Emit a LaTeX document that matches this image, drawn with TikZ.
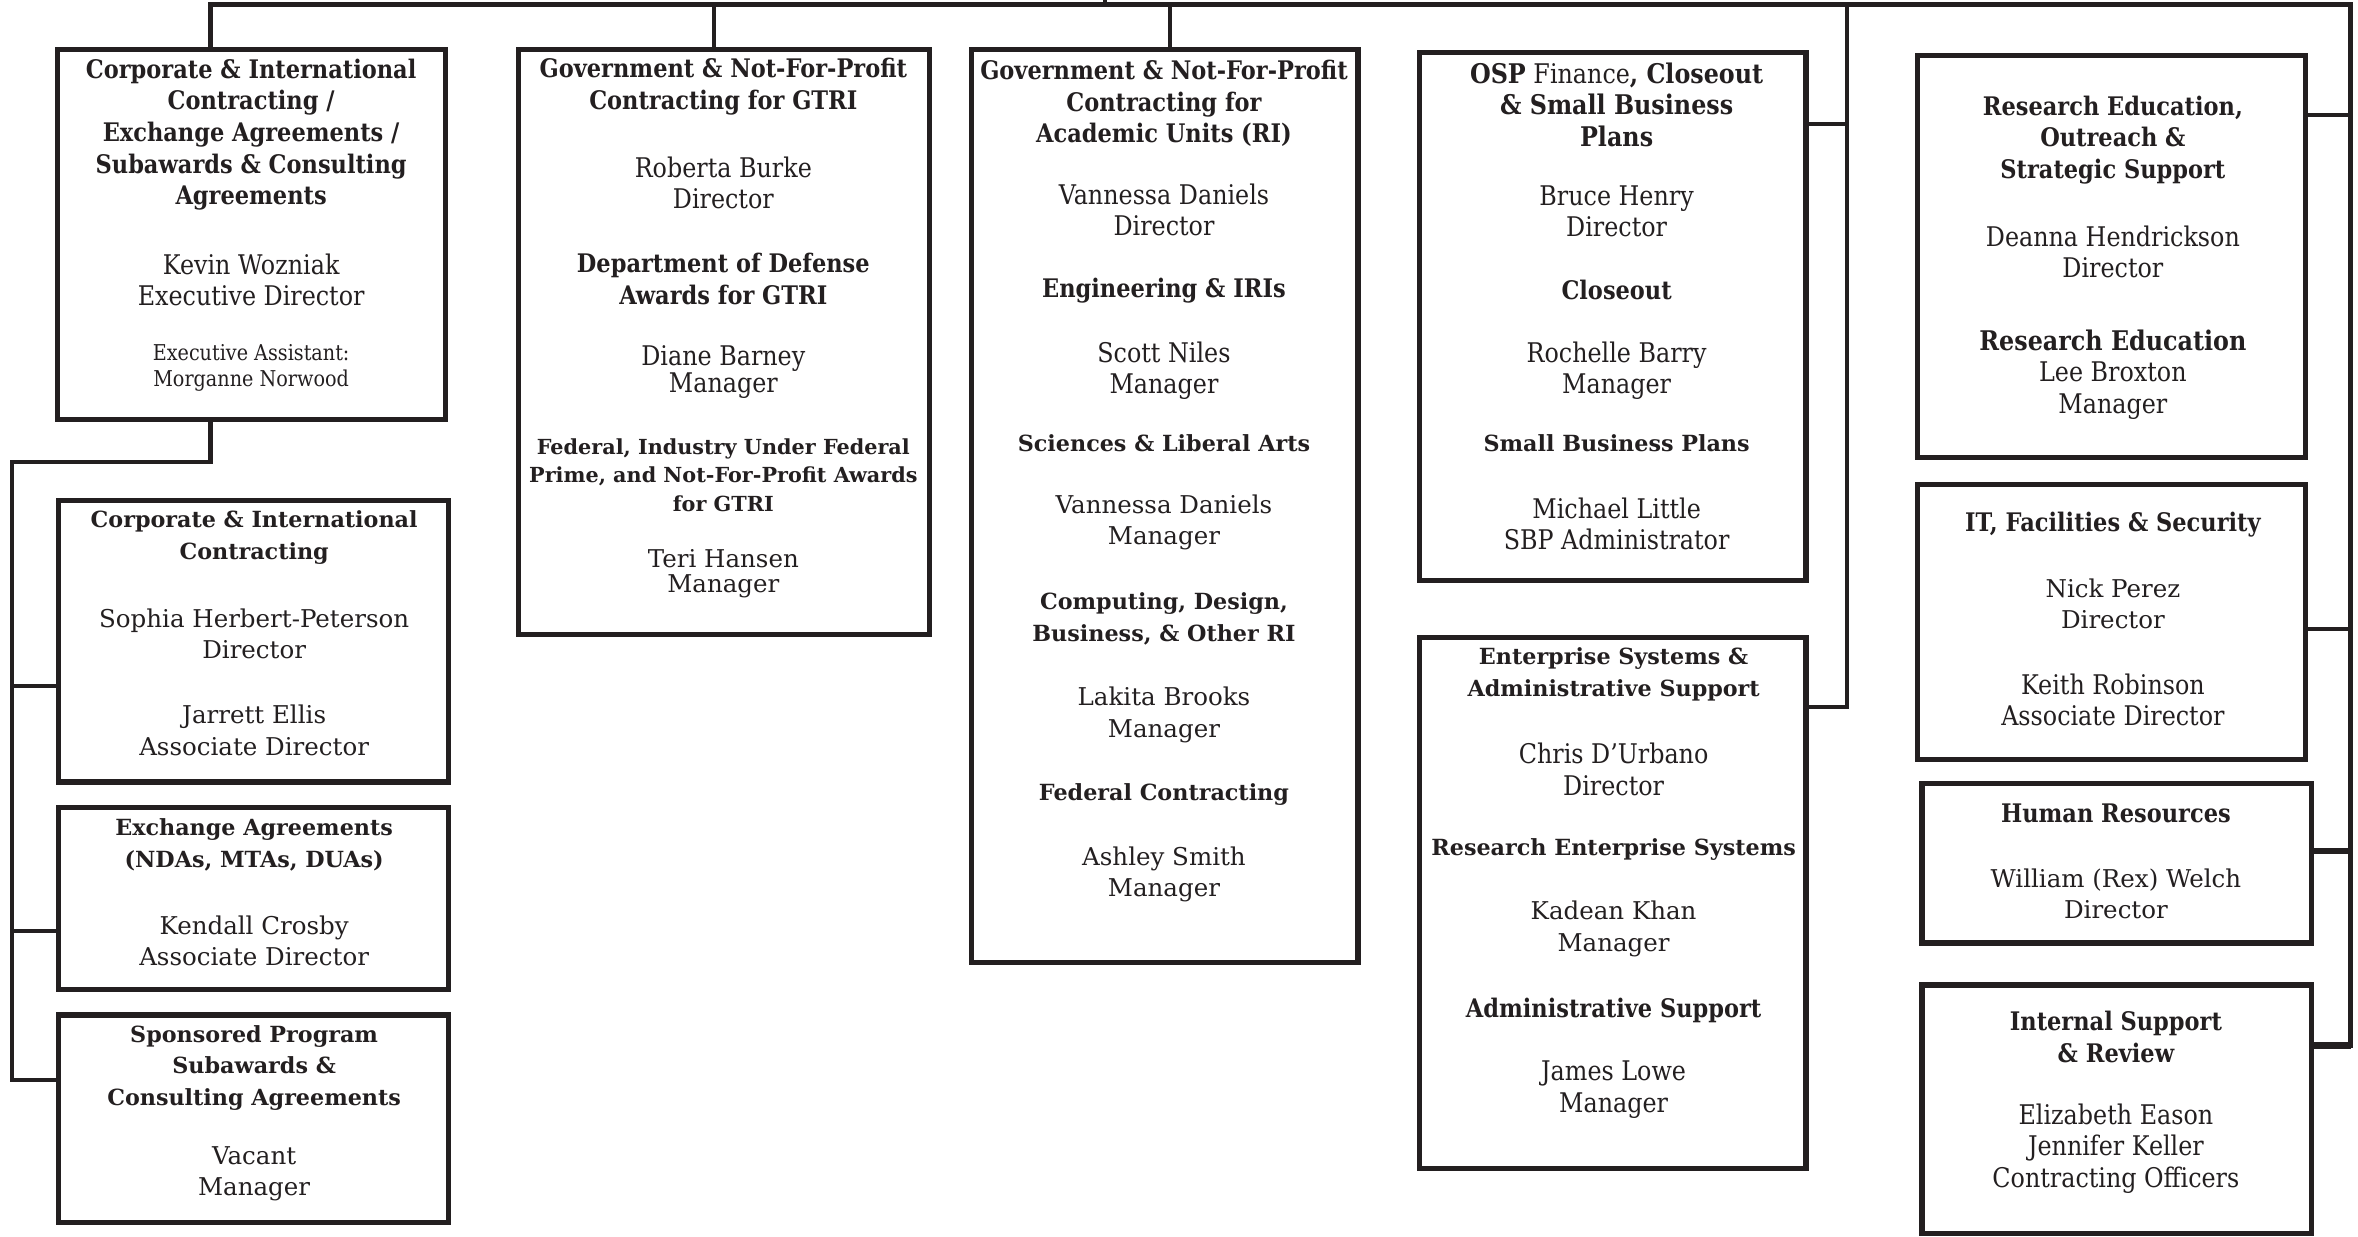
\documentclass[tikz,border=0pt]{standalone}
\usepackage{fontspec}
\setmainfont{DejaVu Serif}
\newfontfamily\cnd[FakeStretch=0.88]{DejaVu Serif}
\definecolor{ink}{HTML}{231F20}
\tikzset{
  box/.style={draw=ink, line width=3.5pt, inner sep=0pt, fill=none},
  conn/.style={draw=ink, line width=2.8pt},
  thk/.style={draw=ink, line width=4.2pt},
  tx/.style={align=center, inner sep=0pt, text=ink},
  tb/.style={tx, font=\cnd\bfseries\fontsize{17}{21}\selectfont},
  tn/.style={tx, font=\cnd\fontsize{18}{21}\selectfont},
  tntight/.style={tx, font=\cnd\fontsize{18}{17}\selectfont},
  tsmall/.style={tx, font=\cnd\fontsize{14.5}{17}\selectfont},
  wb/.style={tx, font=\bfseries\fontsize{14.8}{21}\selectfont},
  wbsmall/.style={tx, font=\bfseries\fontsize{13.8}{19}\selectfont},
  wn/.style={tx, font=\fontsize{16.3}{21}\selectfont},
  wntight/.style={tx, font=\fontsize{16.3}{17}\selectfont},
}
\begin{document}
\begin{tikzpicture}[x=1pt,y=-1pt]
\useasboundingbox (0,0) rectangle (1568,822);

% boxes
\node[box, minimum width=258pt, minimum height=246pt] (A) at (167,156) {};
\node[box, minimum width=273pt, minimum height=389pt] (B) at (481.5,227.5) {};
\node[box, minimum width=257pt, minimum height=607pt] (C) at (774.5,336.5) {};
\node[box, minimum width=257pt, minimum height=351pt] (D) at (1072.5,210.5) {};
\node[box, minimum width=257pt, minimum height=353pt] (E) at (1072.5,600.5) {};
\node[box, minimum width=258pt, minimum height=267pt] (F) at (1404,170.5) {};
\node[box, minimum width=258pt, minimum height=183pt] (G) at (1404,413.5) {};
\node[box, minimum width=259pt, minimum height=106pt] (H) at (1407.5,574) {};
\node[box, minimum width=259pt, minimum height=165pt] (I) at (1407.5,737.5) {};
\node[box, minimum width=259pt, minimum height=187pt] (J) at (168.5,426.5) {};
\node[box, minimum width=259pt, minimum height=121pt] (K) at (168.5,597.5) {};
\node[box, minimum width=259pt, minimum height=138pt] (L) at (168.5,744) {};

% connectors
\coordinate (busL) at (140,3);
\coordinate (busR) at (1563,3);
\coordinate (dv) at (1228,3);
\coordinate (lv) at (8,307);
\coordinate (up) at (735,0);
\draw[conn] (up) -- (up |- busL);
\draw[conn] (A.north -| busL) -- (busL) -- (busR) |- ([yshift=-42pt]I.north east);
\draw[conn] ([xshift=-6.5pt]B.north) -- ([xshift=-6.5pt]B.north |- busL);
\draw[conn] ([xshift=3.5pt]C.north) -- ([xshift=3.5pt]C.north |- busL);
\draw[conn] (dv) |- ([yshift=-48pt]E.north east);
\draw[conn] ([yshift=-49pt]D.north east) -- ([yshift=-49pt]D.north east -| dv);
\draw[conn] ([yshift=-41pt]F.north east) -- ([yshift=-41pt]F.north east -| busR);
\draw[conn] ([yshift=-4.5pt]G.east) -- ([yshift=-4.5pt]G.east -| busR);
\draw[thk] ([yshift=8pt]H.east) -- ([yshift=8pt]H.east -| busR);
\draw[thk] ([yshift=-42pt]I.north east) -- ([yshift=-42pt]I.north east -| busR);
\draw[conn] (A.south -| busL) |- (lv) |- ([yshift=-45pt]L.north west);
\draw[conn] ([yshift=-125pt]J.north west) -- ([yshift=-125pt]J.north west -| lv);
\draw[conn] ([yshift=-84pt]K.north west) -- ([yshift=-84pt]K.north west -| lv);

% box A
\node[tb] (A1) at (167,89.5) {Corporate \& International\\Contracting /\\Exchange Agreements /\\Subawards \& Consulting\\Agreements};
\node[tn] (A2) at (167,186) {Kevin Wozniak\\Executive Director};
\node[tsmall] (A3) at (167,244.5) {Executive Assistant:\\Morganne Norwood};

% box B
\node[tb] (B1) at (481,57.5) {Government \& Not-For-Profit\\Contracting for GTRI};
\node[tn] (B2) at (481,121.5) {Roberta Burke\\Director};
\node[tb] (B3) at (481,185.5) {Department of Defense\\Awards for GTRI};
\node[tntight] (B4) at (481,247.5) {Diane Barney\\Manager};
\node[wbsmall] (B5) at (481,316) {Federal, Industry Under Federal\\Prime, and Not-For-Profit Awards\\for GTRI};
\node[wntight] (B6) at (481,381.5) {Teri Hansen\\Manager};

% box C
\node[tb] (C1) at (774,68.7) {Government \& Not-For-Profit\\Contracting for\\Academic Units (RI)};
\node[tn] (C2) at (774,139.5) {Vannessa Daniels\\Director};
\node[tb] (C3) at (774,193) {Engineering \& IRIs};
\node[tn] (C4) at (774,246.5) {Scott Niles\\Manager};
\node[wb] (C5) at (774,295) {Sciences \& Liberal Arts};
\node[wn] (C6) at (774,347.5) {Vannessa Daniels\\Manager};
\node[wb] (C7) at (774,411.5) {Computing, Design,\\Business, \& Other RI};
\node[wn] (C8) at (774,475.5) {Lakita Brooks\\Manager};
\node[wb] (C9) at (774,528) {Federal Contracting};
\node[wn] (C10) at (774,581.5) {Ashley Smith\\Manager};

% box D
\node[tn] (D1) at (1075,69.7) {\textbf{OSP} Finance\textbf{, Closeout}\\\textbf{\& Small Business}\\\textbf{Plans}};
\node[tn] (D2) at (1075,140.5) {Bruce Henry\\Director};
\node[tb] (D3) at (1075,193) {Closeout};
\node[tn] (D4) at (1075,246.5) {Rochelle Barry\\Manager};
\node[wb] (D5) at (1075,295) {Small Business Plans};
\node[tn] (D6) at (1075,348.5) {Michael Little\\SBP Administrator};

% box E
\node[wb] (E1) at (1073,448.5) {Enterprise Systems \&\\Administrative Support};
\node[tn] (E2) at (1073,511.5) {Chris D’Urbano\\Director};
\node[wb] (E3) at (1073,565) {Research Enterprise Systems};
\node[wn] (E4) at (1073,617.5) {Kadean Khan\\Manager};
\node[tb] (E5) at (1073,672) {Administrative Support};
\node[tn] (E6) at (1073,724.5) {James Lowe\\Manager};

% box F
\node[tb] (F1) at (1405,93) {Research Education,\\Outreach \&\\Strategic Support};
\node[tn] (F2) at (1405,167.5) {Deanna Hendrickson\\Director};
\node[tn] (F3) at (1405,249) {\textbf{Research Education}\\Lee Broxton\\Manager};

% box G
\node[tb] (G1) at (1405,349) {IT, Facilities \& Security};
\node[wn] (G2) at (1405,401.5) {Nick Perez\\Director};
\node[tn] (G3) at (1405,465.5) {Keith Robinson\\Associate Director};

% box H
\node[tb] (H1) at (1407,541) {Human Resources};
\node[wn] (H2) at (1407,594.5) {William (Rex) Welch\\Director};

% box I
\node[tb] (I1) at (1407,689.5) {Internal Support\\\& Review};
\node[tn] (I2) at (1407,763.7) {Elizabeth Eason\\Jennifer Keller\\Contracting Officers};

% box J
\node[wb] (J1) at (169,357.5) {Corporate \& International\\Contracting};
\node[wn] (J2) at (169,421.5) {Sophia Herbert-Peterson\\Director};
\node[wn] (J3) at (169,485.5) {Jarrett Ellis\\Associate Director};

% box K
\node[wb] (K1) at (169,562) {Exchange Agreements\\(NDAs, MTAs, DUAs)};
\node[wn] (K2) at (169,625.5) {Kendall Crosby\\Associate Director};

% box L
\node[wb] (L1) at (169,710) {Sponsored Program\\Subawards \&\\Consulting Agreements};
\node[wn] (L2) at (169,780.5) {Vacant\\Manager};
\end{tikzpicture}
\end{document}
